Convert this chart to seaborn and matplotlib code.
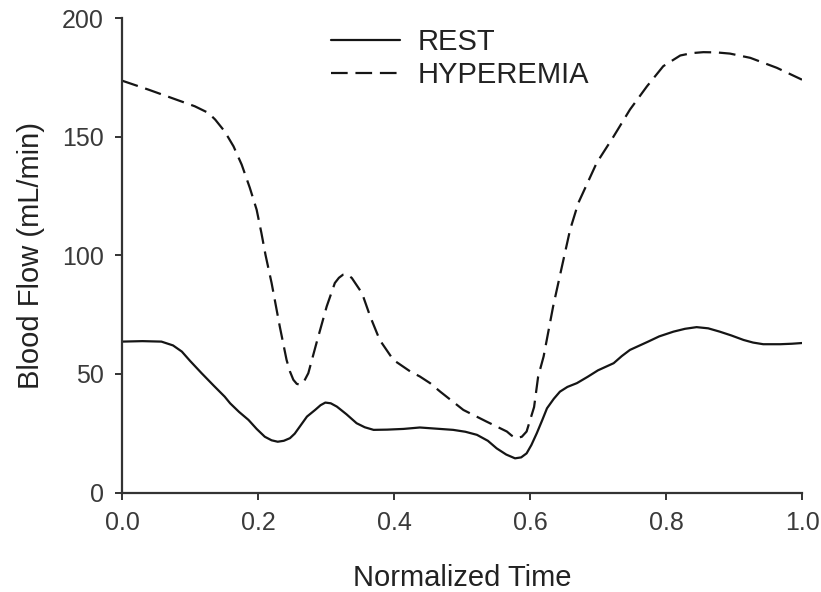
import numpy as np
import pandas as pd
import matplotlib
matplotlib.use("Agg")
import matplotlib.pyplot as plt
import seaborn as sns

# ---- data ----
rest_time = [0.0, 0.03, 0.058, 0.075, 0.088, 0.10, 0.117, 0.135, 0.151, 0.159,
             0.172, 0.186, 0.198, 0.210, 0.220, 0.229, 0.238, 0.247, 0.254, 0.262,
             0.272, 0.284, 0.292, 0.299, 0.307, 0.316, 0.33, 0.345, 0.357, 0.370,
             0.39, 0.414, 0.438, 0.487, 0.505, 0.522, 0.538, 0.551, 0.565, 0.578,
             0.587, 0.595, 0.602, 0.610, 0.618, 0.625, 0.635, 0.644, 0.655, 0.669,
             0.685, 0.700, 0.723, 0.735, 0.747, 0.773, 0.79, 0.811, 0.828, 0.845,
             0.862, 0.879, 0.896, 0.914, 0.928, 0.943, 0.968, 0.985, 1.0]
rest_flow = [63.6, 63.8, 63.6, 62.0, 59.4, 55.5, 50.3, 45.0, 40.4, 37.6,
             34.0, 30.6, 26.8, 23.5, 22.0, 21.4, 21.8, 22.9, 24.8, 28.0,
             32.0, 34.8, 36.8, 37.9, 37.6, 36.2, 33.0, 29.2, 27.5, 26.4,
             26.5, 26.8, 27.4, 26.4, 25.6, 24.3, 21.8, 18.6, 16.0, 14.4,
             14.8, 16.5, 20.0, 25.0, 30.5, 35.5, 39.5, 42.5, 44.5, 46.1,
             48.8, 51.5, 54.5, 57.5, 60.1, 63.5, 65.8, 67.8, 69.0, 69.7,
             69.2, 67.8, 66.2, 64.3, 63.2, 62.5, 62.5, 62.7, 63.0]

hyp_time = [0.0, 0.039, 0.073, 0.107, 0.127, 0.137, 0.151, 0.164, 0.176, 0.188,
            0.198, 0.205, 0.211, 0.220, 0.232, 0.242, 0.247, 0.252, 0.257, 0.262,
            0.268, 0.274, 0.286, 0.301, 0.313, 0.319, 0.325, 0.331, 0.338, 0.353,
            0.365, 0.379, 0.399, 0.424, 0.438, 0.453, 0.468, 0.502, 0.536, 0.566,
            0.573, 0.580, 0.588, 0.595, 0.606, 0.612, 0.620, 0.634, 0.647, 0.659,
            0.671, 0.698, 0.723, 0.747, 0.772, 0.796, 0.821, 0.838, 0.855, 0.874,
            0.894, 0.924, 0.963, 1.0]
hyp_flow = [173.6, 169.8, 166.3, 162.8, 160.0, 157.2, 152.2, 145.9, 138.2, 128.4,
            119.2, 109.4, 100.2, 88.3, 70.0, 55.9, 51.0, 47.5, 45.8, 45.4,
            47.0, 50.3, 63.0, 78.4, 88.3, 90.5, 91.8, 92.0, 90.4, 84.0,
            74.2, 64.3, 55.9, 51.0, 48.9, 46.1, 42.5, 34.8, 29.9, 25.7,
            24.0, 22.9, 23.5, 25.7, 36.0, 48.9, 57.3, 78.4, 95.3, 110.8,
            122.0, 138.9, 150.1, 161.4, 171.2, 179.7, 184.2, 185.2, 185.6, 185.5,
            185.0, 183.2, 179.0, 174.0]

series_names = ["REST", "HYPEREMIA"]
x_ticks = [0.0, 0.2, 0.4, 0.6, 0.8, 1.0]
y_ticks = [0, 50, 100, 150, 200]

df = pd.concat([
    pd.DataFrame({"time": rest_time, "flow": rest_flow, "Condition": series_names[0]}),
    pd.DataFrame({"time": hyp_time, "flow": hyp_flow, "Condition": series_names[1]}),
], ignore_index=True)

sns.set_style("ticks")
plt.rcParams["font.family"] = ["Liberation Sans", "DejaVu Sans"]

fig = plt.figure(figsize=(8.21, 5.92), dpi=100)
ax = fig.add_axes([122 / 821, 1 - 492.5 / 592, (802 - 122) / 821, (492.5 - 18) / 592])

line_color = "#151515"
sns.lineplot(data=df, x="time", y="flow", style="Condition",
             dashes={"REST": "", "HYPEREMIA": (7.5, 3.5)},
             color=line_color, linewidth=1.6, estimator=None, sort=False,
             ax=ax, legend=True)
for ln in ax.get_lines():
    ln.set_solid_joinstyle("round")
    ln.set_dash_joinstyle("round")

ax.set_xlim(0, 1.0)
ax.set_ylim(0, 200)
ax.set_xticks(x_ticks)
ax.set_xticklabels([f"{t:.1f}" for t in x_ticks])
ax.set_yticks(y_ticks)
ax.set_yticklabels([str(t) for t in y_ticks])

for side in ["top", "right"]:
    ax.spines[side].set_visible(False)
for side in ["left", "bottom"]:
    ax.spines[side].set_linewidth(1.6)
    ax.spines[side].set_color("#333333")
ax.tick_params(axis="both", direction="out", length=5, width=1.4, color="#333333",
               labelsize=18, labelcolor="#3a3a3a", pad=8)

ax.set_xlabel("Normalized Time", fontsize=21, color="#222222", labelpad=21)
ax.set_ylabel("Blood Flow (mL/min)", fontsize=21, color="#222222", labelpad=12)

handles, labels = ax.get_legend_handles_labels()
hmap = dict(zip(labels, handles))
leg = ax.legend([hmap[n] for n in series_names], series_names,
                loc="upper left", bbox_to_anchor=(311 / 821, 1 - 8 / 592),
                bbox_transform=fig.transFigure, frameon=False,
                fontsize=21, handlelength=2.35, handletextpad=0.6,
                labelspacing=0.15, borderpad=0.2)
for t in leg.get_texts():
    t.set_color("#222222")

fig.savefig("out.png", dpi=100)
